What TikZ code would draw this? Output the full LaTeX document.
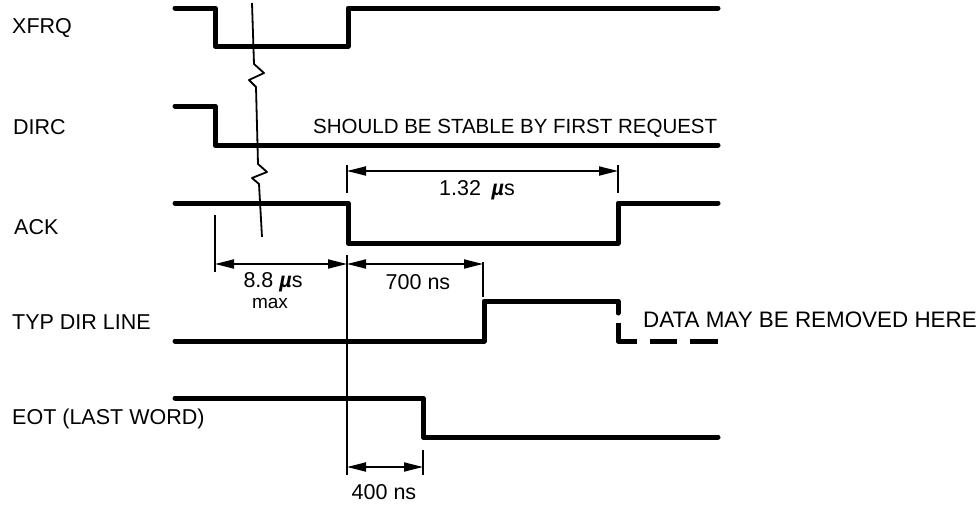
\documentclass[tikz,border=0pt]{standalone}
\usepackage{fontspec}
\setmainfont{Liberation Sans}
\usetikzlibrary{arrows.meta,positioning,calc}

\tikzset{
  signal/.style={line width=5pt,line join=round,line cap=round},
  thinline/.style={line width=1.8pt},
  dimline/.style={line width=1.8pt,{Triangle[length=19pt,width=9pt]}-{Triangle[length=19pt,width=9pt]}},
  siglabel/.style={anchor=west,inner sep=0pt,font=\fontsize{21.5}{24}\selectfont},
  dimlabel/.style={inner sep=0pt,font=\fontsize{21.5}{24}\selectfont},
}
\newcommand{\musec}{\textbf{\textit{µ}}s}

\begin{document}
\begin{tikzpicture}[x=1pt,y=-1pt]
\useasboundingbox (0,0) rectangle (978,506);

% signal names
\node[siglabel] (lblxfrq) at (12,28)  {XFRQ};
\node[siglabel] (lbldirc) at (13,127) {DIRC};
\node[siglabel] (lblack)  at (14,227) {ACK};
\node[siglabel] (lbltyp)  at (12,322) {TYP DIR LINE};
\node[siglabel] (lbleot)  at (12,419) {EOT (LAST WORD)};

% waveforms
\draw[signal] (175,8) -- (215,8) -- (215,46) -- (348,46) -- (348,8) -- (718,8);
\draw[signal] (175,106) -- (215,106) -- (215,145) -- (718,145);
\draw[signal] (175,203) -- (348,203) -- (348,243) -- (618,243) -- (618,203) -- (718,203);
\draw[signal] (175,341) -- (484,341) -- (484,301) -- (618,301) -- (618,313);
\draw[signal,line cap=butt,dash pattern=on 37pt off 13pt on 27pt off 13pt on 30pt]
  (618,323) -- (618,341) -- (718,341);
\draw[signal] (175,398) -- (423,398) -- (423,437) -- (718,437);

\node[siglabel,font=\fontsize{20.5}{23}\selectfont] (stable) at (313,128) {SHOULD BE STABLE BY FIRST REQUEST};
\node[siglabel,font=\fontsize{22.4}{25}\selectfont] (remove) at (643,320) {DATA MAY BE REMOVED HERE};

% broken reference line through XFRQ, DIRC and ACK
\draw[thinline,line join=round] (252,3) -- (254,64) -- (264,73) -- (249,80) -- (256,87)
  -- (258,164) -- (267,172) -- (252,178) -- (259,184) -- (262,237);

% extension lines
\draw[thinline] (347,255) -- (347,475);
\draw[thinline] (215,215) -- (215,272);
\draw[thinline] (483,262) -- (483,297);
\draw[thinline] (347,165) -- (347,193);
\draw[thinline] (618,165) -- (618,193);
\draw[thinline] (423,450) -- (423,475);

% dimension arrows
\coordinate (d88a)  at (215,264);
\coordinate (d88b)  at (347,264);
\coordinate (d700b) at (483,264);
\coordinate (d132a) at (347,171);
\coordinate (d132b) at (618,171);
\coordinate (d400a) at (347,467);
\coordinate (d400b) at (423,467);
\draw[dimline] (d88a) -- (d88b);
\draw[dimline] (d88b) -- (d700b);
\draw[dimline] (d132a) -- (d132b);
\draw[dimline] (d400a) -- (d400b);

\node[dimlabel] (t88)  at (273,282) {8.8 \musec};
\node[dimlabel,font=\fontsize{19}{21}\selectfont] (tmax) at (270,303) {max};
\node[dimlabel] (t700) at (418,282) {700 ns};
\node[dimlabel] (t132) at (477,190) {1.32\enspace\musec};
\node[dimlabel] (t400) at (384,492) {400 ns};
\end{tikzpicture}
\end{document}
